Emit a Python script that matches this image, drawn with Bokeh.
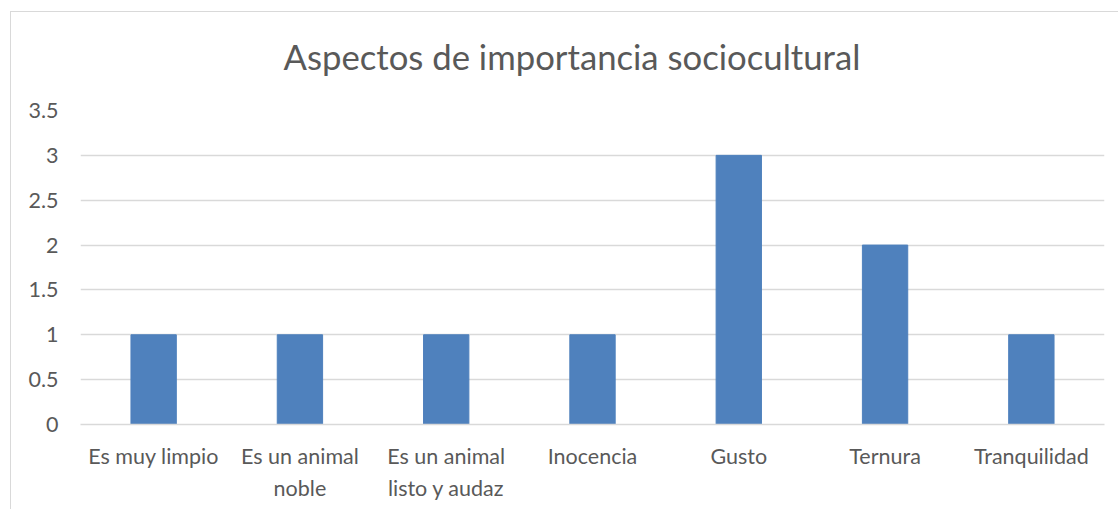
from bokeh.plotting import figure
from bokeh.models import FactorRange, Range1d, FixedTicker, Title
from bokeh.embed import file_html
from bokeh.resources import INLINE

# ---- data ----
categories = ["Es muy limpio", "Es un animal\nnoble", "Es un animal\nlisto y audaz",
              "Inocencia", "Gusto", "Ternura", "Tranquilidad"]
values = [1, 1, 1, 1, 3, 2, 1]
y_ticks = [0, 0.5, 1, 1.5, 2, 2.5, 3, 3.5]
title_text = "Aspectos de importancia sociocultural"

FONT = "Lato"
TXT = "#595959"
GRID = "#d9d9d9"

p = figure(x_range=FactorRange(*categories), y_range=Range1d(0, 3.5),
           width=1108, height=498, output_backend="svg", toolbar_location=None,
           min_border_left=69, min_border_right=15, min_border_top=98, min_border_bottom=86)
p.margin = (11, 0, 0, 10)
p.styles = {"border-left": f"1px solid {GRID}", "border-top": f"1px solid {GRID}"}

p.vbar(x=categories, top=values, width=0.31, color="#4F81BD", line_color="#4F81BD")

# spacer between frame and title
p.add_layout(Title(text=" ", text_font_size="1px", standoff=31), "above")
p.add_layout(Title(text=title_text, align="left", offset=203, text_font_size="34.7px",
                   text_font_style="normal", text_color=TXT, text_font=FONT, standoff=0),
             "above")

p.outline_line_color = None
p.background_fill_color = "white"
p.border_fill_color = "white"
p.xgrid.grid_line_color = None
p.ygrid.grid_line_color = GRID
p.ygrid.grid_line_width = 1.3
p.ygrid.ticker = FixedTicker(ticks=y_ticks)

p.yaxis.ticker = FixedTicker(ticks=y_ticks)
p.yaxis.major_label_overrides = {t: f"{t:g}" for t in y_ticks}
p.yaxis.axis_line_color = None
p.yaxis.major_tick_line_color = None
p.yaxis.minor_tick_line_color = None
p.yaxis.major_label_standoff = 16
p.yaxis.major_label_text_font = FONT
p.yaxis.major_label_text_font_size = "21.5px"
p.yaxis.major_label_text_color = TXT

p.xaxis.axis_line_color = GRID
p.xaxis.axis_line_width = 1.3
p.xaxis.major_tick_line_color = None
p.xaxis.minor_tick_line_color = None
p.xaxis.major_label_standoff = 12
p.xaxis.major_label_text_font = FONT
p.xaxis.major_label_text_font_size = "21.5px"
p.xaxis.major_label_text_color = TXT
p.xaxis.major_label_text_line_height = 1.25
p.xaxis.major_label_orientation = "horizontal"

open("out.html", "w").write(file_html(p, INLINE))
